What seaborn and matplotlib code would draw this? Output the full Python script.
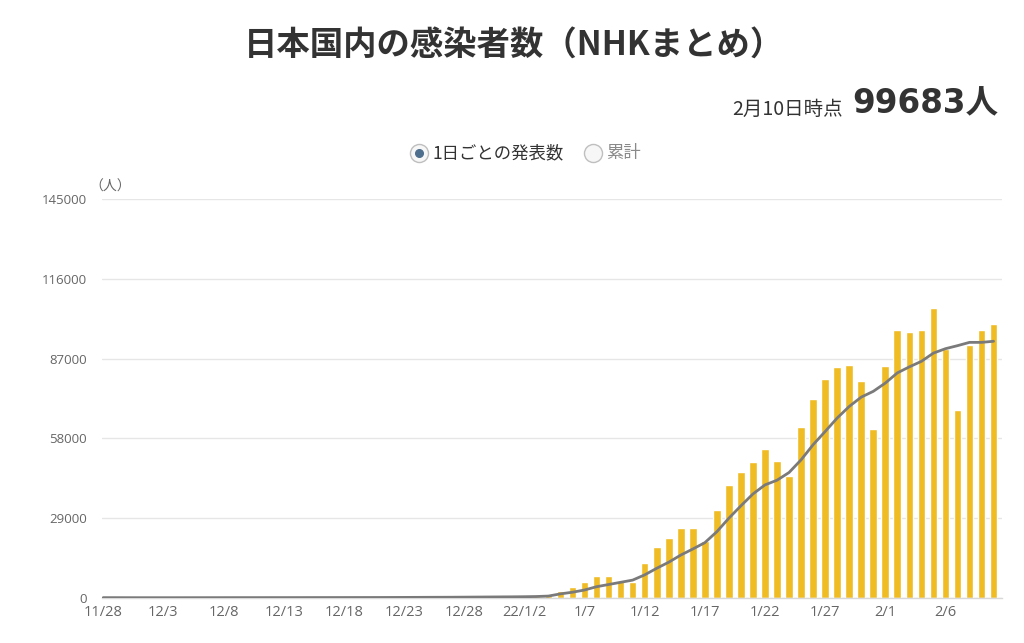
import matplotlib
matplotlib.use("Agg")
import matplotlib.pyplot as plt
from matplotlib.lines import Line2D
import seaborn as sns
import pandas as pd
import numpy as np

# ---------------- data ----------------
dates = pd.date_range("2021-11-28", "2022-02-10", freq="D")

daily_cases = [
    # 11/28 - 11/30
    131, 92, 79,
    # 12/1 - 12/31
    127, 119, 112, 143, 112, 97, 124, 145, 170, 135, 154, 132, 106, 165, 176,
    185, 199, 173, 176, 137, 213, 253, 276, 288, 330, 276, 232, 384, 401, 501, 477,
    # 1/1 - 1/31
    534, 553, 782, 1265, 2400, 4100, 5700, 8100, 8100, 6200, 5700, 12800, 18700,
    21700, 25400, 25400, 20700, 31800, 41100, 45700, 49400, 54200, 49700, 44500,
    62200, 72300, 79700, 83800, 84700, 79000, 61400,
    # 2/1 - 2/10
    84200, 97500, 96500, 97500, 105400, 90500, 68400, 91800, 97500, 99683,
]

avg_cases = [
    130, 125, 115,
    110, 110, 110, 110, 115, 120, 125, 130, 135, 140, 140, 145, 145, 150, 155,
    160, 165, 170, 175, 180, 185, 200, 215, 230, 250, 265, 280, 310, 340, 370, 400,
    430, 470, 540, 700, 1500, 2100, 2900, 4100, 4900, 5700, 6500, 8400, 10800,
    13000, 15600, 17800, 20100, 24100, 29000, 33500, 37800, 41100, 42800, 45600,
    50200, 55700, 60500, 65400, 69600, 73000, 75100,
    78100, 81800, 84000, 86000, 89000, 90600, 91700, 92900, 92900, 93300,
]

tick_labels = ["11/28", "12/3", "12/8", "12/13", "12/18", "12/23", "12/28",
               "22/1/2", "1/7", "1/12", "1/17", "1/22", "1/27", "2/1", "2/6"]
y_ticks = [0, 29000, 58000, 87000, 116000, 145000]

title = "日本国内の感染者数（NHKまとめ）"
asof_label = "2月10日時点"
total_label = "99683人"
legend_labels = ["1日ごとの発表数", "累計"]

df = pd.DataFrame({"idx": np.arange(len(dates)), "daily": daily_cases, "avg": avg_cases})

# ---------------- style ----------------
sns.set_theme(style="white")
plt.rcParams["font.family"] = ["Noto Sans CJK JP", "DejaVu Sans"]

BAR = "#EFBC24"
LINE = "#7a7a7a"
GRID = "#e6e6e6"
TXT = "#333333"
TICK = "#666666"
LATIN = ["Open Sans", "Noto Sans CJK JP"]

fig = plt.figure(figsize=(10.24, 6.43), dpi=100)
ax = fig.add_axes([102 / 1024, 45 / 643, 900 / 1024, 399 / 643])

sns.barplot(data=df, x="idx", y="daily", color=BAR, width=0.64, saturation=1,
            ax=ax, zorder=2)
sns.lineplot(data=df, x="idx", y="avg", color=LINE, linewidth=2.0, ax=ax, zorder=3)

ax.set_xlim(-0.1, len(dates) - 0.3)
ax.set_ylim(0, 145000)
ax.set_yticks(y_ticks)
ax.set_yticklabels([str(v) for v in y_ticks], color=TICK, fontsize=9.5, family=LATIN)
ax.set_xticks(np.arange(0, len(dates), 5))
ax.set_xticklabels(tick_labels, color=TICK, fontsize=10.5, family=LATIN)
ax.tick_params(axis="y", length=0, pad=11)
ax.tick_params(axis="x", length=0, pad=5)
ax.set_xlabel("")
ax.set_ylabel("")
ax.grid(axis="y", color=GRID, linewidth=1, zorder=0)
ax.grid(axis="x", visible=False)
for side in ["top", "right", "left"]:
    ax.spines[side].set_visible(False)
ax.spines["bottom"].set_color("#d8d8d8")
ax.spines["bottom"].set_linewidth(1)

# unit label
fig.text(110 / 1024, 1 - 187 / 643, "（人）", ha="center", va="center",
         fontsize=10, color=TICK)

# title and headline
fig.text(514 / 1024, 1 - 45 / 643, title, ha="center", va="center",
         fontsize=24, fontweight="bold", color=TXT)
fig.text(843 / 1024, 1 - 109 / 643, asof_label, ha="right", va="center",
         fontsize=14, color=TXT)
fig.text(998 / 1024, 1 - 104 / 643, total_label, ha="right", va="center",
         fontsize=23.5, fontweight="bold", color=TXT,
         family=["DejaVu Sans", "Noto Sans CJK JP"])

# radio-button legend
def radio(xp, yp, selected):
    fig.add_artist(Line2D([xp / 1024], [1 - yp / 643], transform=fig.transFigure,
                          marker="o", markersize=13, markerfacecolor="#f7f7f7",
                          markeredgecolor="#bfbfbf", markeredgewidth=1.0, linestyle=""))
    if selected:
        fig.add_artist(Line2D([xp / 1024], [1 - yp / 643], transform=fig.transFigure,
                              marker="o", markersize=5.5, markerfacecolor="#4f6f8f",
                              markeredgecolor="#4f6f8f", linestyle=""))

radio(419, 153, True)
fig.text(433 / 1024, 1 - 153 / 643, legend_labels[0], ha="left", va="center",
         fontsize=12.5, color=TXT)
radio(593, 153, False)
fig.text(606 / 1024, 1 - 153 / 643, legend_labels[1], ha="left", va="center",
         fontsize=12.5, color="#8a8a8a")

fig.savefig("out.png", dpi=100, facecolor="white")
